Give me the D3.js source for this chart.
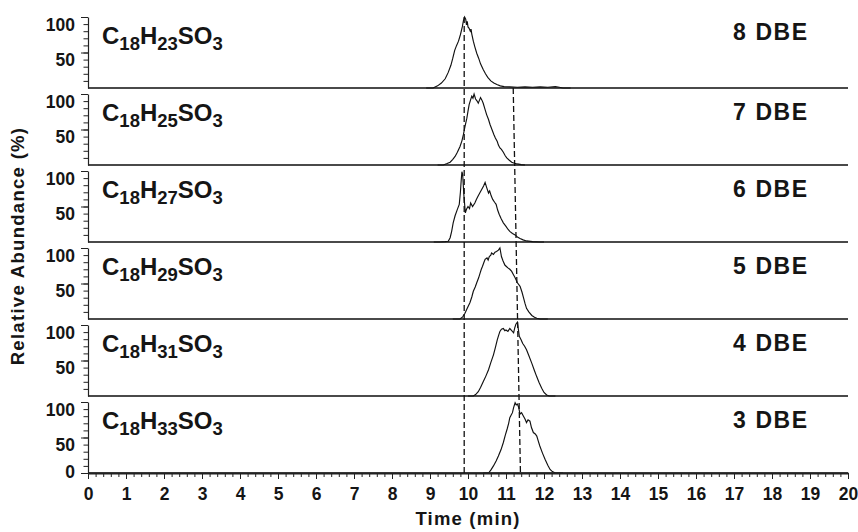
<!DOCTYPE html>
<html>
<head>
<meta charset="utf-8">
<script src="https://cdn.jsdelivr.net/npm/d3@7"></script>
<style>
  body { margin: 0; background: #fff; }
  text { font-family: "Liberation Sans", Arial, sans-serif; font-weight: bold; fill: #151515; }
</style>
</head>
<body>
<svg width="858" height="532"></svg>
<script>
// Panel labels, top to bottom
const dbeLabels = ["8 DBE", "7 DBE", "6 DBE", "5 DBE", "4 DBE", "3 DBE"];
const hCounts = ["23", "25", "27", "29", "31", "33"];

// Extracted ion chromatograms: [time (min), relative abundance (%)]
const trace8 = [[8.9,0],[9.08,0],[9.2,3],[9.3,7],[9.4,13],[9.48,22],[9.55,32],[9.6,42],[9.65,53],[9.7,60],
  [9.75,66],[9.8,75],[9.85,86],[9.88,95],[9.91,100],[9.94,97],[9.96,89],[9.98,94],[10.0,86],[10.03,84],
  [10.06,80],[10.08,83],[10.1,76],[10.14,66],[10.18,58],[10.23,49],[10.28,42],[10.33,34],[10.4,26],
  [10.46,20],[10.52,15],[10.6,10],[10.68,7],[10.76,5],[10.85,3],[10.95,2],[11.1,1.5],[11.3,1],[11.5,1.5],
  [11.7,1],[11.9,1.5],[12.1,1],[12.3,2],[12.4,1],[12.5,0],[12.7,0]];
const trace7 = [[9.2,0],[9.35,0],[9.45,2],[9.53,4],[9.6,8],[9.66,12],[9.72,18],[9.79,26],[9.84,34],[9.88,43],
  [9.92,54],[9.97,66],[10.0,76],[10.03,85],[10.07,92],[10.1,97],[10.13,94],[10.16,100],[10.2,93],[10.24,90],
  [10.27,87],[10.3,91],[10.33,95],[10.37,91],[10.4,87],[10.45,78],[10.49,71],[10.54,64],[10.58,57],
  [10.63,50],[10.68,43],[10.72,38],[10.77,33],[10.8,28],[10.84,24],[10.88,22],[10.93,18],[10.98,13],
  [11.02,10],[11.08,7],[11.15,4],[11.22,2.5],[11.3,1.5],[11.4,0.5],[11.5,0]];
const trace6 = [[9.1,0],[9.26,0],[9.4,0.5],[9.48,1],[9.53,6],[9.57,15],[9.61,27],[9.66,37],[9.72,46],[9.77,53],
  [9.8,70],[9.82,86],[9.84,99],[9.86,95],[9.89,67],[9.93,41],[9.96,46],[10.0,50],[10.04,47],[10.07,55],
  [10.12,50],[10.18,55],[10.22,60],[10.27,65],[10.32,70],[10.36,74],[10.41,79],[10.45,84],[10.49,77],
  [10.54,69],[10.57,72],[10.61,65],[10.65,60],[10.7,56],[10.74,53],[10.78,45],[10.82,39],[10.87,33],
  [10.93,27],[11.0,22],[11.05,18],[11.1,15],[11.17,12],[11.24,10],[11.3,7],[11.37,5],[11.45,3],
  [11.54,1.5],[11.7,0.5],[11.89,0],[12.0,0]];
const trace5 = [[9.6,0],[9.79,0],[9.86,3],[9.92,8],[9.98,15],[10.05,23],[10.1,31],[10.14,39],[10.19,45],
  [10.23,51],[10.28,58],[10.32,65],[10.35,70],[10.38,74],[10.42,80],[10.45,84],[10.5,86],[10.53,83],
  [10.56,88],[10.6,90],[10.62,93],[10.67,91],[10.71,94],[10.75,95],[10.8,97],[10.84,100],[10.88,88],
  [10.92,82],[10.97,76],[11.01,74],[11.05,72],[11.1,70],[11.15,67],[11.2,62],[11.24,58],[11.3,51],
  [11.37,46],[11.42,38],[11.46,30],[11.5,22],[11.54,15],[11.6,10],[11.68,5],[11.75,2.5],[11.81,1],
  [11.9,0],[12.1,0]];
const trace4 = [[10.0,0],[10.14,0],[10.2,2],[10.27,6],[10.33,12],[10.4,20],[10.47,28],[10.54,37],[10.6,47],
  [10.67,58],[10.72,68],[10.77,79],[10.81,86],[10.84,91],[10.88,94],[10.93,95],[10.97,92],[11.0,93],
  [11.05,91],[11.1,95],[11.15,92],[11.2,89],[11.23,96],[11.26,101],[11.3,104],[11.33,92],[11.35,84],
  [11.4,79],[11.44,74],[11.49,70],[11.54,65],[11.6,57],[11.68,46],[11.74,37],[11.81,27],[11.87,19],
  [11.94,11],[12.0,5],[12.07,1.5],[12.14,0],[12.3,0]];
const trace3 = [[10.4,0],[10.54,0],[10.6,4],[10.67,10],[10.74,17],[10.8,24],[10.87,33],[10.93,43],[10.98,53],
  [11.03,62],[11.07,70],[11.1,78],[11.14,82],[11.17,85],[11.2,92],[11.24,99],[11.27,96],[11.3,97],
  [11.33,93],[11.37,83],[11.41,85],[11.46,80],[11.5,76],[11.54,71],[11.58,75],[11.63,73],[11.67,64],
  [11.72,57],[11.77,55],[11.81,52],[11.85,45],[11.89,38],[11.96,28],[12.03,19],[12.1,11],[12.16,5],
  [12.22,2],[12.3,0],[12.5,0]];
const traces = [trace8, trace7, trace6, trace5, trace4, trace3];

// Retention-time markers (min): vertical at 9.9, slanted 11.19 -> 11.38
const markerA = 9.9;
const markerB = [11.19, 11.38];

const svg = d3.select("svg");
const x = d3.scaleLinear().domain([0, 20]).range([88, 848]);
const pitch = 77, panelH = 71, firstBase = 88;
const nPanels = traces.length;
const lastBase = firstBase + pitch * (nPanels - 1);

traces.forEach((trace, i) => {
  const base = firstBase + pitch * i;
  const y = d3.scaleLinear().domain([0, 100]).range([base, base - panelH]);
  const g = svg.append("g");
  const isLast = i === nPanels - 1;

  // panel baseline
  g.append("line")
    .attr("x1", x(0)).attr("x2", x(20))
    .attr("y1", base).attr("y2", base)
    .attr("stroke", "#4a4a4a").attr("stroke-width", 2);

  // minor y ticks
  g.append("g").attr("transform", `translate(${x(0)},0)`)
    .call(d3.axisLeft(y).tickValues(d3.range(10, 101, 10)).tickSize(4.5).tickSizeOuter(0).tickFormat(""))
    .call(a => a.selectAll("line").attr("stroke", "#222"))
    .call(a => a.select(".domain").attr("stroke", "#222").attr("stroke-width", 1.2));

  // major y ticks + labels
  const yAxis = g.append("g").attr("transform", `translate(${x(0)},0)`)
    .call(d3.axisLeft(y).tickValues(isLast ? [0, 50, 100] : [50, 100]).tickSize(7).tickPadding(6).tickSizeOuter(0));
  yAxis.select(".domain").remove();
  yAxis.selectAll("line").attr("stroke", "#222");
  yAxis.selectAll("text")
    .attr("font-size", 17.5).attr("font-family", null)
    .attr("dy", d => d === 0 ? "0.23em" : "0.76em");

  // chromatogram
  g.append("path")
    .datum(trace)
    .attr("fill", "none").attr("stroke", "#111").attr("stroke-width", 1.15)
    .attr("d", d3.line().x(d => x(d[0])).y(d => y(d[1])));

  // formula label
  const f = g.append("text").attr("x", 102).attr("y", base - panelH + 27).attr("font-size", 24);
  f.append("tspan").text("C");
  f.append("tspan").attr("font-size", 18.5).attr("dy", 6).text("18");
  f.append("tspan").attr("dy", -6).text("H");
  f.append("tspan").attr("font-size", 18.5).attr("dy", 6).text(hCounts[i]);
  f.append("tspan").attr("dy", -6).text("SO");
  f.append("tspan").attr("font-size", 18.5).attr("dy", 6).text("3");

  // DBE label
  g.append("text")
    .attr("x", 733).attr("y", base - panelH + (i === 0 ? 23 : 26))
    .attr("font-size", 23).attr("letter-spacing", 1.6)
    .text(dbeLabels[i]);
});

// x axis (bottom panel)
const xMinor = svg.append("g").attr("transform", `translate(0,${lastBase})`)
  .call(d3.axisBottom(x).tickValues(d3.range(0, 20.001, 0.2)).tickSize(4).tickSizeOuter(0).tickFormat(""));
xMinor.select(".domain").attr("stroke", "#222").attr("stroke-width", 2);
xMinor.selectAll("line").attr("stroke", "#222");

const xMajor = svg.append("g").attr("transform", `translate(0,${lastBase})`)
  .call(d3.axisBottom(x).ticks(20).tickSize(6).tickPadding(9).tickSizeOuter(0));
xMajor.select(".domain").remove();
xMajor.selectAll("line").attr("stroke", "#222");
xMajor.selectAll("text").attr("font-size", 17.5).attr("font-family", null);

// dashed retention markers
const yTop = firstBase - panelH;
svg.append("line")
  .attr("x1", x(markerA)).attr("x2", x(markerA))
  .attr("y1", yTop).attr("y2", lastBase)
  .attr("stroke", "#111").attr("stroke-width", 1.3).attr("stroke-dasharray", "6,3");
svg.append("line")
  .attr("x1", x(markerB[0])).attr("x2", x(markerB[1]))
  .attr("y1", firstBase).attr("y2", lastBase)
  .attr("stroke", "#111").attr("stroke-width", 1.3).attr("stroke-dasharray", "6,3");

// axis titles
svg.append("text")
  .attr("x", 468).attr("y", 525)
  .attr("text-anchor", "middle").attr("font-size", 18.5).attr("letter-spacing", 1.2)
  .text("Time (min)");
svg.append("text")
  .attr("transform", "translate(24,246) rotate(-90)")
  .attr("text-anchor", "middle").attr("font-size", 18.5).attr("letter-spacing", 1.3)
  .text("Relative Abundance (%)");
</script>
</body>
</html>
